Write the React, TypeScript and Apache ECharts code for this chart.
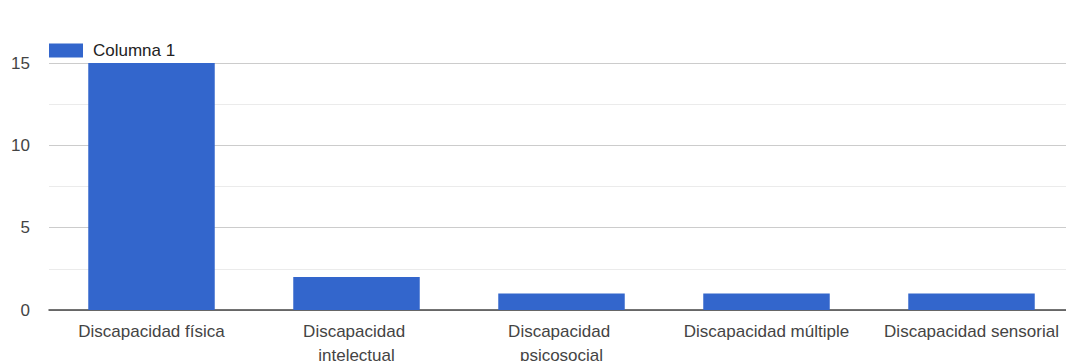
import React, { useEffect, useRef } from "react";
import * as echarts from "echarts";

const categories = [
  "Discapacidad física",
  "Discapacidad intelectual",
  "Discapacidad psicosocial",
  "Discapacidad múltiple",
  "Discapacidad sensorial",
];
const seriesName = "Columna 1";
const values = [15, 2, 1, 1, 1];
const yTicks = [0, 5, 10, 15];

const FONT = "'Liberation Sans', Arial, sans-serif";

export default function App() {
  const ref = useRef<HTMLDivElement>(null);

  useEffect(() => {
    if (!ref.current) return;
    const chart = echarts.init(ref.current, undefined, { renderer: "svg" });
    chart.setOption({
      animation: false,
      backgroundColor: "#ffffff",
      textStyle: { fontFamily: FONT },
      legend: {
        show: true,
        left: 44,
        top: 37,
        icon: "rect",
        itemWidth: 34,
        itemHeight: 14,
        textStyle: { fontFamily: FONT, fontSize: 17, color: "#222", padding: [0, 0, 0, 5] },
        data: [seriesName],
      },
      grid: {
        left: 49,
        top: 63,
        width: 1025,
        height: 247,
        containLabel: false,
        outerBoundsMode: "none",
      },
      xAxis: {
        type: "category",
        data: categories,
        axisTick: { show: false },
        axisLine: { show: true, lineStyle: { color: "#444", width: 1.5 } },
        axisLabel: {
          fontFamily: FONT,
          fontSize: 17,
          color: "#444",
          margin: 9,
          lineHeight: 24,
          width: 178,
          overflow: "break",
          interval: 0,
        },
      },
      yAxis: {
        type: "value",
        min: yTicks[0],
        max: yTicks[yTicks.length - 1],
        interval: 5,
        axisLine: { show: false },
        axisTick: { show: false },
        axisLabel: { fontFamily: FONT, fontSize: 17, color: "#444", margin: 19 },
        splitLine: { show: true, lineStyle: { color: "#cccccc", width: 1 } },
        minorTick: { show: false, splitNumber: 2 },
        minorSplitLine: { show: true, lineStyle: { color: "#ebebeb", width: 1 } },
      },
      series: [
        {
          name: seriesName,
          type: "bar",
          data: values,
          barWidth: "61.7%",
          itemStyle: { color: "#3366cc" },
        },
      ],
    });
    return () => chart.dispose();
  }, []);

  return (
    <div
      ref={ref}
      style={{ position: "absolute", left: 0, top: 0, width: 1066, height: 361 }}
    />
  );
}
